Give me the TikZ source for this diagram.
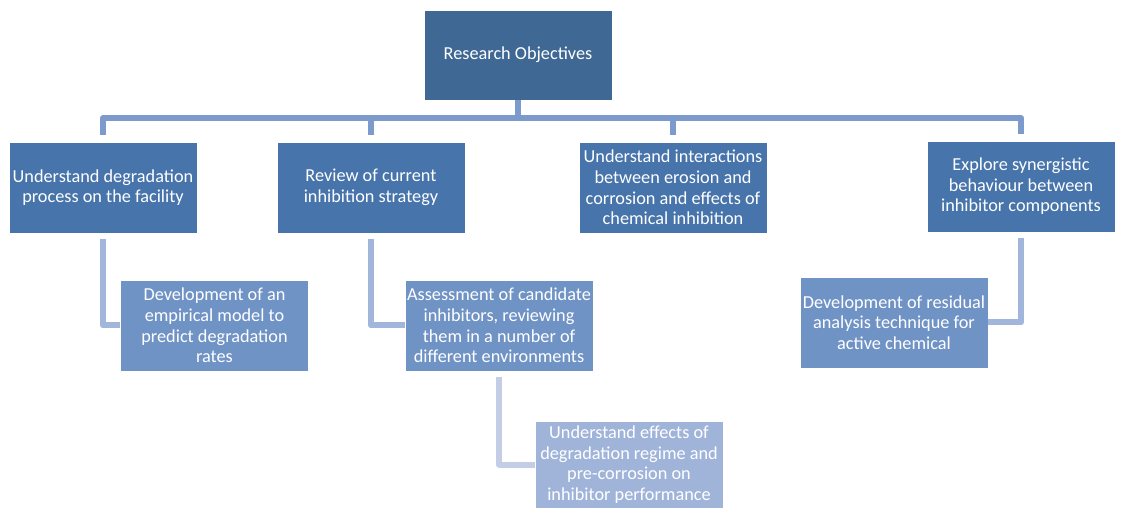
\documentclass[tikz,border=0pt]{standalone}
\usepackage{fontspec}
\setmainfont{Carlito}
\definecolor{rootblue}{HTML}{3F6895}
\definecolor{mainblue}{HTML}{4674AB}
\definecolor{subblue}{HTML}{7093C6}
\definecolor{paleblue}{HTML}{A0B4DA}
\definecolor{barblue}{HTML}{7C9ACC}
\definecolor{elbowblue}{HTML}{A2B5DA}
\definecolor{faintblue}{HTML}{C3CEE6}
\begin{document}
\begin{tikzpicture}[x=0.75pt, y=-0.75pt,
   box/.style={rectangle, draw=white, line width=0.6pt, text=white, align=center,
     minimum width=141pt, minimum height=68.25pt, inner sep=0.5pt,
     font=\fontsize{13.7}{15.4}\selectfont},
   topline/.style={draw=barblue, line width=4.5pt, line join=round},
   elbow/.style={draw=elbowblue, line width=4.5pt, line join=round}]
   \useasboundingbox (0,0) rectangle (1121,509);
   \node[box, fill=rootblue, minimum height=67.5pt] (root) at (518,55) {Research Objectives};
   \node[box, fill=mainblue] (degr) at (103,187.5) {Understand degradation\\process on the facility};
   \node[box, fill=mainblue] (review) at (371,187.5) {Review of current\\inhibition strategy};
   \node[box, fill=mainblue] (inter) at (673,187.5) {Understand interactions\\between erosion and\\corrosion and effects of\\chemical inhibition};
   \node[box, fill=mainblue] (syn) at (1021,186.5) {Explore synergistic\\behaviour between\\inhibitor components};
   \node[box, fill=subblue] (model) at (214.5,325.5) {Development of an\\empirical model to\\predict degradation\\rates};
   \node[box, fill=subblue] (assess) at (499,325.5) {Assessment of candidate\\inhibitors, reviewing\\them in a number of\\different environments};
   \node[box, fill=subblue] (resid) at (894,322.5) {Development of residual\\analysis technique for\\active chemical};
   \node[box, fill=paleblue, minimum height=65.25pt] (effects) at (629,464.5) {Understand effects of\\degradation regime and\\pre-corrosion on\\inhibitor performance};
   \coordinate (bar) at (0,118);
   \draw[topline] (root.south) -- (root.south |- bar);
   \draw[topline] ([yshift=5pt]degr.north) |- (root.south |- bar) -| ([yshift=5pt]syn.north);
   \draw[topline] ([yshift=5pt]review.north) -- (review.north |- bar);
   \draw[topline] ([yshift=5pt]inter.north) -- (inter.north |- bar);
   \draw[elbow] ([yshift=-4pt]degr.south) |- (model.west);
   \draw[elbow] ([yshift=-4pt]review.south) |- (assess.west);
   \draw[elbow] ([yshift=-4pt]syn.south) |- (resid.east);
   \draw[elbow, draw=faintblue] ([yshift=-4pt]assess.south) |- (effects.west);
  \end{tikzpicture}
\end{document}
